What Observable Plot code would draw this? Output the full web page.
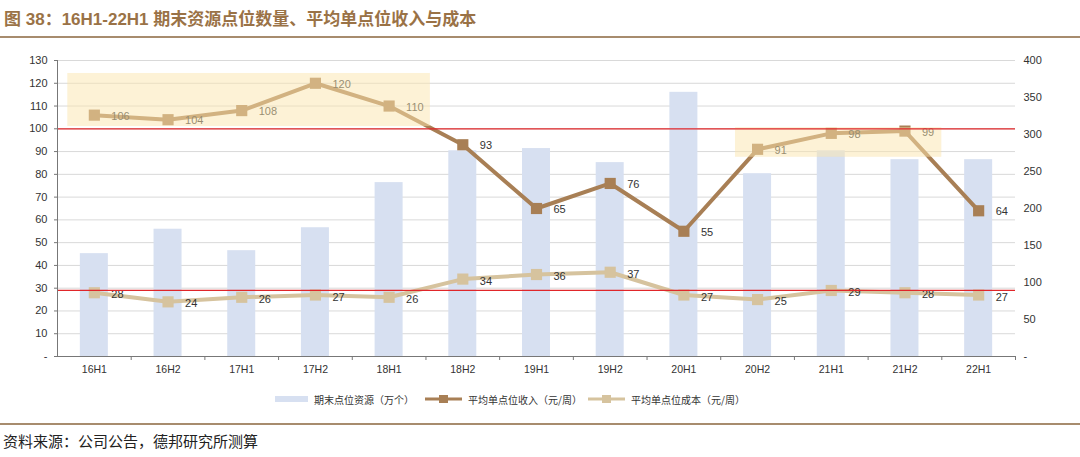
<!DOCTYPE html>
<html><head><meta charset="utf-8">
<script src="https://cdn.jsdelivr.net/npm/d3@7"></script>
<script src="https://cdn.jsdelivr.net/npm/@observablehq/plot@0.6"></script>
<style>
body{margin:0;width:1080px;height:457px;background:#fff;position:relative;overflow:hidden;font-family:"Liberation Sans",Arial,sans-serif}
#title{position:absolute;left:4px;top:5px;font-weight:bold;font-size:17px;font-family:"Liberation Sans","Noto Sans CJK SC",sans-serif;color:#9a7246;white-space:nowrap}
#tline{position:absolute;left:0;top:36px;width:1080px;height:2px;background:#a78c6e}
#chart{position:absolute;left:0;top:40px}
.leg{position:absolute;top:392px;height:14px;display:flex;align-items:center;font-size:10px;color:#333;font-family:"Noto Sans CJK SC",sans-serif;white-space:nowrap}
.leg svg{margin-right:6px}
#bline{position:absolute;left:0;top:423px;width:1080px;height:2px;background:#a78c6e}
#source{position:absolute;left:3px;top:430px;font-size:15px;color:#222;font-family:"Noto Sans CJK SC",sans-serif;white-space:nowrap}
</style></head>
<body>
<div id="title">图 38：16H1-22H1 期末资源点位数量、平均单点位收入与成本</div>
<div id="tline"></div>
<div id="chart"></div>
<div id="legend"></div>
<div id="bline"></div>
<div id="source">资料来源：公司公告，德邦研究所测算</div>
<script>
const categories = ["16H1","16H2","17H1","17H2","18H1","18H2","19H1","19H2","20H1","20H2","21H1","21H2","22H1"];
const resources = [139,172,143,174,235,278,281,262,357,247,278,266,266];
const revenue = [106,104,108,120,110,93,65,76,55,91,98,99,64];
const cost = [28,24,26,27,26,34,36,37,27,25,29,28,27];
const leftTicks = d3.range(0,131,10);
const rightTicks = d3.range(0,401,50);
const refLines = [100,29];
const highlights = [
  {from:-0.36,to:4.56,low:101,high:124.3},
  {from:8.7,to:11.5,low:87.5,high:100.5}
];
const seriesNames = ["期末点位资源（万个）","平均单点位收入（元/周）","平均单点位成本（元/周）"];

const ratio = 130/400;
const revColor = "#a87f55", costColor = "#d6c39e", barColor = "#d7e0f1";
const rows = categories.map((c,i)=>({i, cat:c, res:resources[i], rev:revenue[i], cost:cost[i]}));

const chart = Plot.plot({
  width:1080, height:345,
  marginTop:20, marginBottom:29, marginLeft:57, marginRight:65,
  style:{fontFamily:"Liberation Sans, Arial, sans-serif", fontSize:"11px", color:"#333", background:"transparent"},
  x:{type:"linear", domain:[-0.5,12.5], axis:null},
  y:{domain:[0,130], axis:null},
  marks:[
    Plot.ruleY(leftTicks.filter(d=>d>0),{stroke:"#d9d9d9", strokeWidth:1}),
    Plot.rectY(rows,{x1:d=>d.i-0.19, x2:d=>d.i+0.19, y1:0, y2:d=>d.res*ratio, fill:barColor}),
    Plot.line(rows,{x:"i",y:"cost",stroke:costColor,strokeWidth:4}),
    Plot.dot(rows,{x:"i",y:"cost",symbol:"square",r:6.3,fill:costColor,stroke:null}),
    Plot.line(rows,{x:"i",y:"rev",stroke:revColor,strokeWidth:4}),
    Plot.dot(rows,{x:"i",y:"rev",symbol:"square",r:6.3,fill:revColor,stroke:null}),
    Plot.text(rows,{x:"i",y:"rev",text:"rev",dx:17,dy:1,textAnchor:"start",fill:"#333",fontSize:11}),
    Plot.text(rows,{x:"i",y:"cost",text:"cost",dx:17,dy:2,textAnchor:"start",fill:"#333",fontSize:11}),
    Plot.rect(highlights,{x1:"from",x2:"to",y1:"low",y2:"high",fill:"#fbe6ad",fillOpacity:0.5}),
    Plot.ruleY(refLines,{stroke:"#e0262a",strokeWidth:1.3}),
    Plot.ruleX([-0.5],{stroke:"#777"}),
    Plot.ruleY([0],{stroke:"#777"}),
    Plot.axisY(leftTicks,{anchor:"left",tickSize:3,tickPadding:7,stroke:"#777",tickFormat:d=>d===0?"-":d,fontSize:11,fill:"#333"}),
    Plot.axisY(rightTicks.map(v=>v*ratio),{anchor:"right",tickSize:0,tickPadding:8,textAnchor:"start",tickFormat:d=>{const v=Math.round(d/ratio);return v===0?"-":v;},fontSize:11,fill:"#333"}),
    Plot.axisX(d3.range(0,13).map(i=>i+0.5),{anchor:"bottom",tickSize:4,tickFormat:()=>"",stroke:"#777"}),
    Plot.axisX(d3.range(0,13),{anchor:"bottom",tickSize:0,tickPadding:9,tickFormat:i=>categories[i],fontSize:10.5,fill:"#333"})
  ]
});
document.getElementById("chart").appendChild(chart);

// legend
const legendSpecs = [
  {left:275, name:seriesNames[0], kind:"bar", color:barColor},
  {left:425, name:seriesNames[1], kind:"line", color:revColor},
  {left:588, name:seriesNames[2], kind:"line", color:costColor}
];
const leg = document.getElementById("legend");
for (const s of legendSpecs) {
  const div = document.createElement("div");
  div.className = "leg";
  div.style.left = s.left + "px";
  let sw;
  if (s.kind === "bar") {
    sw = `<svg width="33" height="14"><rect x="0" y="4" width="33" height="6" fill="${s.color}"/></svg>`;
  } else {
    sw = `<svg width="37" height="14"><line x1="0" x2="37" y1="7" y2="7" stroke="${s.color}" stroke-width="3"/><rect x="14" y="3" width="9" height="8" fill="${s.color}"/></svg>`;
  }
  div.innerHTML = sw + `<span>${s.name}</span>`;
  leg.appendChild(div);
}
</script>
</body></html>
